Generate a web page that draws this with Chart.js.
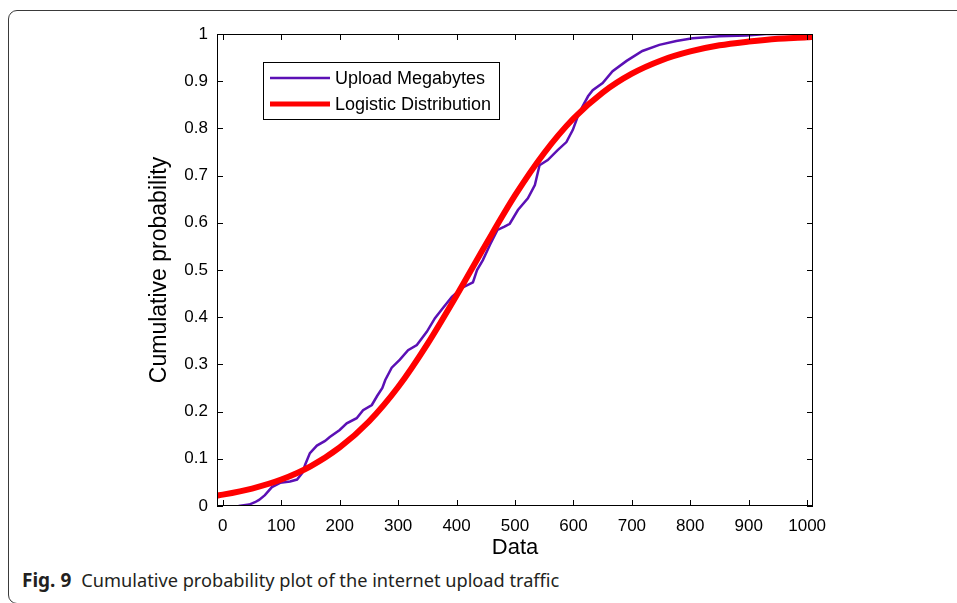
<!DOCTYPE html>
<html>
<head>
<meta charset="utf-8">
<script src="https://cdn.jsdelivr.net/npm/chart.js@4.4.0/dist/chart.umd.min.js"></script>
<style>
html, body { margin: 0; padding: 0; background: #fff; overflow: hidden; width: 957px; height: 603px; }
#moldura { position: absolute; left: 8px; top: 10px; width: 1000px; height: 594px; border: 1px solid #3a3a3a; border-radius: 9px; box-sizing: border-box; }
#grafico { position: absolute; left: 0; top: 0; }
#legenda { position: absolute; left: 22px; top: 567px; font-family: 'Noto Sans', sans-serif; font-size: 18.2px; color: #231f20; white-space: nowrap; }
#legenda b { font-size: 19px; margin-right: 10px; }
</style>
</head>
<body>
<div id="moldura"></div>
<canvas id="grafico" width="957" height="561"></canvas>
<div id="legenda"><b>Fig. 9</b>Cumulative probability plot of the internet upload traffic</div>
<script>
// valores
const nomesSeries = ['Upload Megabytes', 'Logistic Distribution'];

const uploadX = [27, 45, 55, 62, 72, 84, 98, 115, 127, 136, 141, 149, 161, 175, 183, 200, 212, 229, 240, 255,
  264, 273, 278, 289, 303, 317, 332, 349, 363, 377, 392, 409, 428, 435, 445, 457, 470, 482, 491, 505,
  522, 534, 542, 556, 573, 588, 599, 607, 615, 625, 633, 650, 667, 691, 718, 747, 776, 804, 850, 896, 930, 1010];
const uploadY = [0, 0.003, 0.008, 0.013, 0.023, 0.04, 0.049, 0.052, 0.056, 0.07, 0.088, 0.112, 0.128, 0.138, 0.146, 0.161, 0.175, 0.186, 0.203, 0.214,
  0.233, 0.25, 0.267, 0.293, 0.31, 0.33, 0.341, 0.369, 0.398, 0.42, 0.443, 0.462, 0.474, 0.5, 0.521, 0.553, 0.585, 0.592, 0.598, 0.627,
  0.652, 0.68, 0.722, 0.733, 0.754, 0.771, 0.797, 0.824, 0.845, 0.868, 0.881, 0.896, 0.921, 0.943, 0.964, 0.977, 0.985, 0.991, 0.995, 0.997, 1, 1];

const logisticaX = [-10, 0, 50, 100, 150, 200, 250, 300, 350, 400, 450, 500, 550, 600, 650, 700, 750, 800, 850, 900, 950, 1000, 1010];
const logisticaY = [0.022, 0.024, 0.037, 0.056, 0.084, 0.124, 0.179, 0.252, 0.343, 0.446, 0.554, 0.658, 0.748, 0.821, 0.876, 0.916, 0.944, 0.963, 0.976, 0.984, 0.990, 0.993, 0.994];

const ticksX = [0, 100, 200, 300, 400, 500, 600, 700, 800, 900, 1000];
const ticksY = [0, 0.1, 0.2, 0.3, 0.4, 0.5, 0.6, 0.7, 0.8, 0.9, 1];

const juntar = (xs, ys) => xs.map((x, i) => ({ x: x, y: ys[i] }));

const fonteEixo = { family: "'Liberation Sans', Arial, sans-serif", size: 17 };

// moldura do grafico, tracinhos para dentro e legenda dentro da area
const molduraEixos = {
  id: 'molduraEixos',
  afterDatasetsDraw(chart) {
    const { ctx, chartArea: a, scales: { x, y } } = chart;
    ctx.save();
    ctx.strokeStyle = '#000';
    ctx.lineWidth = 1;
    ctx.strokeRect(a.left + 0.5, a.top + 0.5, a.right - a.left - 1, a.bottom - a.top - 1);
    ctx.beginPath();
    ticksX.forEach((v) => {
      const px = Math.round(x.getPixelForValue(v)) + 0.5;
      ctx.moveTo(px, a.bottom); ctx.lineTo(px, a.bottom - 6);
      ctx.moveTo(px, a.top); ctx.lineTo(px, a.top + 6);
    });
    ticksY.forEach((v) => {
      const py = Math.round(y.getPixelForValue(v)) + 0.5;
      ctx.moveTo(a.left, py); ctx.lineTo(a.left + 6, py);
      ctx.moveTo(a.right, py); ctx.lineTo(a.right - 6, py);
    });
    ctx.stroke();
    ctx.restore();
  },
  afterDraw(chart) {
    const { ctx, chartArea: a } = chart;
    const bx = a.left + 46, by = a.top + 28, bw = 236, bh = 57;
    ctx.save();
    ctx.fillStyle = '#fff';
    ctx.fillRect(bx, by, bw, bh);
    ctx.strokeStyle = '#000';
    ctx.lineWidth = 1;
    ctx.strokeRect(bx + 0.5, by + 0.5, bw, bh);
    ctx.font = "18px 'Liberation Sans', Arial, sans-serif";
    ctx.textBaseline = 'middle';
    ctx.fillStyle = '#000';
    chart.data.datasets.forEach((ds, i) => {
      const ly = by + 16 + i * 26;
      ctx.strokeStyle = ds.borderColor;
      ctx.lineWidth = i === 0 ? 2.5 : 5;
      ctx.beginPath();
      ctx.moveTo(bx + 7, ly); ctx.lineTo(bx + 67, ly);
      ctx.stroke();
      ctx.fillText(ds.label, bx + 72, ly + 1);
    });
    ctx.restore();
  }
};

new Chart(document.getElementById('grafico'), {
  type: 'line',
  data: {
    datasets: [{
      label: nomesSeries[0],
      data: juntar(uploadX, uploadY),
      borderColor: '#5b10b5',
      borderWidth: 2.5,
      tension: 0,
      order: 1
    }, {
      label: nomesSeries[1],
      data: juntar(logisticaX, logisticaY),
      borderColor: '#ff0000',
      borderWidth: 6,
      cubicInterpolationMode: 'monotone',
      order: 0
    }]
  },
  options: {
    responsive: false,
    animation: false,
    layout: { padding: { left: 146, top: 34, right: 144, bottom: 0 } },
    elements: { point: { radius: 0 } },
    plugins: { legend: { display: false }, tooltip: { enabled: false } },
    scales: {
      x: {
        type: 'linear',
        min: -10,
        max: 1010,
        afterBuildTicks: (s) => { s.ticks = ticksX.map((v) => ({ value: v })); },
        afterFit: (s) => { s.height = 55; },
        grid: { display: false, drawTicks: false },
        border: { display: false },
        ticks: { padding: 10, color: '#000', font: fonteEixo, maxRotation: 0, autoSkip: false, callback: (v) => String(v) },
        title: { display: true, text: 'Data', padding: 0, color: '#000', font: { family: fonteEixo.family, size: 22 } }
      },
      y: {
        type: 'linear',
        min: 0,
        max: 1,
        afterBuildTicks: (s) => { s.ticks = ticksY.map((v) => ({ value: v })); },
        afterFit: (s) => { s.width = 71; },
        grid: { display: false, drawTicks: false },
        border: { display: false },
        ticks: { padding: 9, color: '#000', font: fonteEixo, autoSkip: false, callback: (v) => String(v) },
        title: { display: true, text: 'Cumulative probability', padding: 0, color: '#000', font: { family: fonteEixo.family, size: 23 } }
      }
    }
  },
  plugins: [molduraEixos]
});
</script>
</body>
</html>
